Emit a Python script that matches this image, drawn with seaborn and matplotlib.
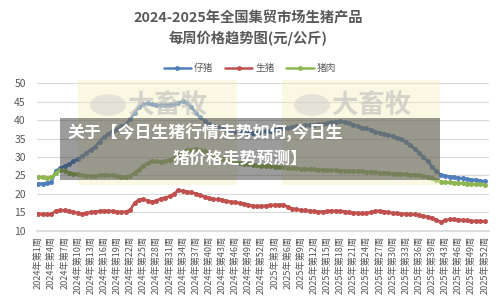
import matplotlib
matplotlib.use("Agg")
import matplotlib.pyplot as plt
import seaborn as sns
import pandas as pd
from matplotlib.patches import Rectangle, Circle
from matplotlib.lines import Line2D

# ---------------- data ----------------
weeks_2024 = list(range(1, 53))
weeks_2025 = [w for w in range(1, 53) if w != 41]
week_labels = [f"2024年第{w}周" for w in weeks_2024] + [f"2025年第{w}周" for w in weeks_2025]

series_names = ["仔猪", "生猪", "猪肉"]

piglet = [22.8, 22.8, 23.0, 23.2, 26.3, 27.0, 27.5, 28.0, 28.8, 29.5,
          30.2, 31.2, 32.0, 32.8, 34.2, 35.4, 36.3, 37.0, 37.6, 38.3,
          39.0, 40.3, 42.0, 43.5, 44.3, 44.6, 44.3, 44.1, 44.0, 44.1,
          44.2, 44.4, 44.8, 45.1, 44.6, 43.6, 42.0, 40.8, 39.8, 39.0,
          38.5, 38.2, 37.8, 37.4, 37.0, 36.9, 36.8, 36.7, 36.5, 36.5,
          36.6, 36.8, 37.0, 37.2, 37.4, 37.6, 37.8, 38.0, 38.2, 38.4,
          38.5, 38.6, 38.7, 38.8, 38.9, 39.0, 39.2, 39.4, 39.6, 39.7,
          39.5, 39.2, 38.8, 38.3, 37.8, 37.8, 37.3, 36.9, 36.6, 36.3,
          36.0, 35.7, 35.3, 34.8, 34.0, 33.2, 32.3, 31.2, 30.0, 28.8,
          27.4, 26.2, 25.2, 24.9, 24.7, 24.5, 24.3, 24.2, 24.0, 23.9,
          23.7, 23.6, 23.4]

hog = [14.6, 14.5, 14.4, 14.5, 15.4, 15.6, 15.5, 15.3, 15.1, 14.8,
       14.6, 14.8, 15.0, 15.2, 15.3, 15.4, 15.4, 15.3, 15.2, 15.0,
       15.2, 15.6, 17.6, 18.4, 18.5, 18.2, 17.8, 18.2, 18.7, 19.0,
       19.3, 20.0, 21.0, 20.8, 20.6, 20.4, 20.1, 19.7, 19.2, 18.8,
       18.6, 18.5, 18.3, 18.0, 17.9, 17.7, 17.5, 17.3, 17.0, 16.8,
       16.6, 16.7, 16.8, 16.9, 17.0, 17.0, 17.1, 16.5, 16.0, 15.8,
       15.6, 15.5, 15.4, 15.3, 15.2, 15.2, 15.3, 15.4, 15.4, 15.3,
       15.2, 15.0, 14.9, 14.8, 14.7, 14.8, 15.0, 15.3, 15.4, 15.2,
       15.0, 14.8, 14.7, 14.6, 14.6, 14.5, 14.4, 14.2, 14.0, 13.8,
       13.5, 12.9, 12.4, 12.8, 13.1, 13.1, 13.0, 12.9, 12.8, 12.7,
       12.6, 12.6, 12.5]

pork = [24.6, 24.5, 24.3, 24.5, 25.6, 26.5, 26.2, 25.8, 25.5, 25.3,
        25.0, 24.9, 24.8, 24.9, 25.0, 25.1, 25.1, 25.0, 24.9, 24.6,
        24.5, 24.9, 25.7, 26.6, 27.6, 28.4, 28.8, 28.8, 28.7, 28.8,
        29.2, 29.8, 30.5, 31.2, 31.8, 32.0, 32.2, 32.0, 31.6, 31.0,
        30.5, 30.0, 29.5, 29.1, 28.8, 28.6, 28.4, 28.2, 28.0, 27.9,
        27.8, 27.7, 27.6, 27.5, 27.4, 27.3, 27.2, 27.1, 27.0, 26.9,
        26.8, 26.8, 26.7, 26.7, 26.6, 26.5, 26.5, 26.4, 26.4, 26.3,
        26.3, 26.2, 26.2, 26.1, 26.1, 26.0, 26.0, 25.9, 25.8, 25.7,
        25.6, 25.5, 25.5, 25.4, 25.3, 25.2, 25.1, 25.0, 24.8, 24.6,
        24.2, 23.7, 23.3, 23.2, 23.1, 23.0, 23.0, 22.9, 22.8, 22.7,
        22.6, 22.6, 22.5]

colors = {"仔猪": "#4F7FBE", "生猪": "#C0504D", "猪肉": "#8DB550"}

# ---------------- figure ----------------
sns.set_theme(style="white")
plt.rcParams["font.family"] = ["Noto Sans CJK SC", "DejaVu Sans"]

rows = []
for name, vals in zip(series_names, [piglet, hog, pork]):
    for i, v in enumerate(vals):
        rows.append({"idx": i, "week": week_labels[i], "price": v, "series": name})
df = pd.DataFrame(rows)

fig = plt.figure(figsize=(5, 3), dpi=100)
ax = fig.add_axes([0.074, 0.231, 0.904, 0.491])

sns.lineplot(data=df, x="idx", y="price", hue="series", hue_order=series_names,
             palette=colors, marker="o", markersize=3.6, markeredgewidth=0,
             linewidth=1.9, legend=False, ax=ax, zorder=3)

ax.set_ylim(10, 50)
ax.set_yticks(range(10, 51, 5))
ax.set_xlim(-0.3, len(week_labels) - 1 + 1.0)
tick_idx = list(range(0, len(week_labels), 3))
ax.set_xticks(tick_idx)
ax.set_xticklabels([week_labels[i] for i in tick_idx], rotation=90,
                   fontsize=6.6, color="#595959")
ax.tick_params(axis="y", labelsize=7.5, labelcolor="#595959", length=0, pad=8)
ax.tick_params(axis="x", length=0, pad=4)
ax.set_xlabel("")
ax.set_ylabel("")
ax.grid(axis="y", color="#D9D9D9", linewidth=0.8)
for s in ["top", "right", "left"]:
    ax.spines[s].set_visible(False)
ax.spines["bottom"].set_color("#D9D9D9")
ax.set_facecolor("none")

# title
fig.text(0.497, 0.94, "2024-2025年全国集贸市场生猪产品", ha="center", va="center",
         fontsize=10.3, fontweight="bold", color="#595959")
fig.text(0.497, 0.873, "每周价格趋势图(元/公斤)", ha="center", va="center",
         fontsize=10.3, fontweight="bold", color="#595959")

# legend
handles = [Line2D([0], [0], color=colors[n], lw=1.8, marker="o", markersize=3.5,
                  markeredgewidth=0) for n in series_names]
fig.legend(handles, series_names, loc="center", bbox_to_anchor=(0.5, 0.773),
           ncol=3, frameon=False, fontsize=7, handlelength=2.8,
           columnspacing=1.2, handletextpad=0.3, labelcolor="#595959")

# watermark boxes
for (x0, x1) in [(78, 237), (282, 440)]:
    fig.add_artist(Rectangle((x0 / 500, 1 - 185 / 300), (x1 - x0) / 500, 105 / 300,
                             transform=fig.transFigure, facecolor="#F3ECB8",
                             alpha=0.4, edgecolor="none", zorder=1))
    cx = x0 + 30
    fig.add_artist(Circle((cx / 500, 1 - 105 / 300), 0.036, transform=fig.transFigure,
                          facecolor="#D0D0D0", alpha=0.5, edgecolor="none", zorder=1))
    fig.text((cx + 20) / 500, 1 - 105 / 300, "大畜牧", fontsize=19, color="#BDBDBD",
             alpha=0.6, fontweight="bold", va="center", ha="left", zorder=1)

# banner overlay
fig.add_artist(Rectangle((60 / 500, 1 - 180 / 300), 380 / 500, 62 / 300,
                         transform=fig.transFigure, facecolor="#3A3A3A",
                         alpha=0.5, edgecolor="none", zorder=10))
fig.text(68 / 500, 1 - 133 / 300, "关于【今日生猪行情走势如何,今日生",
         fontsize=12.2, fontweight="bold", color="white", ha="left", va="center", zorder=11)
fig.text(240 / 500, 1 - 160 / 300, "猪价格走势预测】",
         fontsize=12.2, fontweight="bold", color="white", ha="center", va="center", zorder=11)

fig.savefig("out.png", dpi=100, facecolor="white")
